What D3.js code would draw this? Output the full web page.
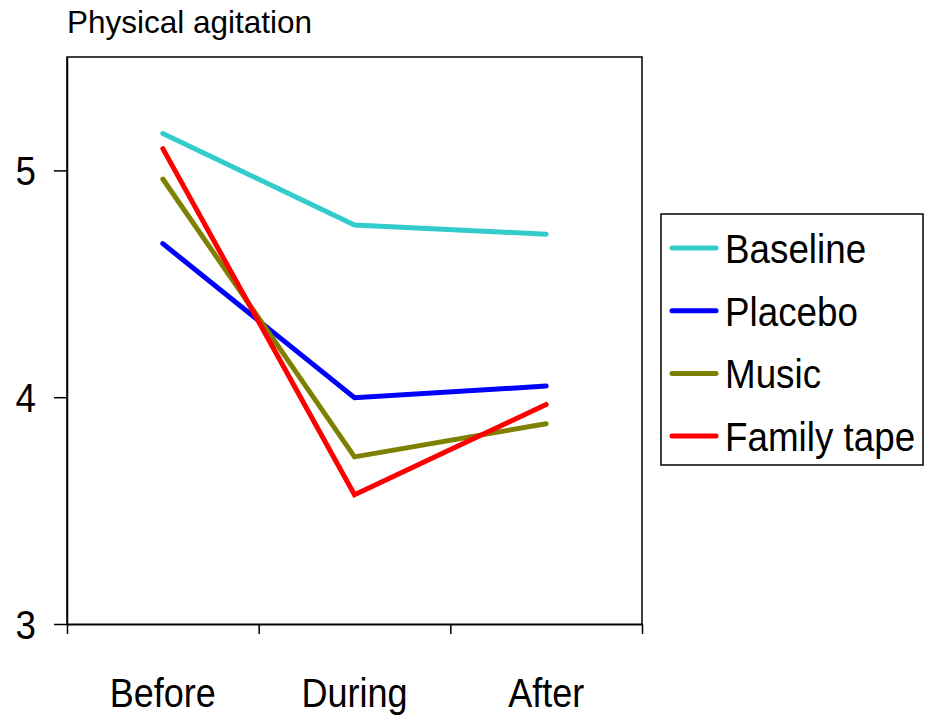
<!DOCTYPE html>
<html>
<head>
<meta charset="utf-8">
<script src="https://cdn.jsdelivr.net/npm/d3@7"></script>
<style>
  body { margin: 0; background: #fff; }
  text { font-family: "Liberation Sans", Arial, sans-serif; fill: #000; }
</style>
</head>
<body>
<svg id="chart" width="926" height="716"></svg>
<script>
// Data
var phases = ["Before", "During", "After"];
var seriesNames = ["Baseline", "Placebo", "Music", "Family tape"];
var baseline = [5.163, 4.759, 4.719];
var placebo = [4.677, 3.998, 4.049];
var music = [4.962, 3.737, 3.883];
var familyTape = [5.096, 3.570, 3.968];
var yTicks = [3, 4, 5];
var colors = ["#33cccc", "#0000ff", "#808000", "#ff0000"];

var allSeries = [baseline, placebo, music, familyTape];

var svg = d3.select("#chart");

// plot frame
var margin = {top: 57, right: 284, bottom: 92, left: 67};
var width = 926 - margin.left - margin.right;
var height = 716 - margin.top - margin.bottom;

var g = svg.append("g")
  .attr("transform", "translate(" + margin.left + "," + margin.top + ")");

var x = d3.scalePoint().domain(phases).range([0, width]).padding(0.5);
var xEdges = d3.scaleLinear().domain([0, phases.length]).range([0, width]);
var y = d3.scaleLinear().domain([3, 5.5]).range([height, 0]);

// title
svg.append("text")
  .attr("x", 67)
  .attr("y", 33)
  .style("font-size", "31.5px")
  .text("Physical agitation");

// box top and right
g.append("path")
  .attr("d", "M0," + height + "V0H" + width + "V" + height)
  .attr("fill", "none")
  .attr("stroke", "#000")
  .attr("stroke-width", 1.5);

// bottom axis: tick marks on the band edges
var xAxis = g.append("g")
  .attr("transform", "translate(0," + height + ")")
  .call(d3.axisBottom(xEdges).ticks(phases.length).tickSize(10).tickSizeOuter(0).tickFormat(""));
xAxis.select(".domain").attr("stroke-width", 2);
xAxis.selectAll(".tick line").attr("stroke-width", 1.5);

// category labels
g.append("g")
  .selectAll("text")
  .data(phases)
  .enter().append("text")
  .attr("transform", function(d) { return "translate(" + x(d) + "," + (height + 83) + ") scale(0.9,1)"; })
  .attr("text-anchor", "middle")
  .style("font-size", "40px")
  .text(function(d) { return d; });

// left axis
var yAxis = g.append("g")
  .call(d3.axisLeft(y).tickValues(yTicks).tickSize(13).tickSizeOuter(0).tickFormat(""));
yAxis.select(".domain").attr("stroke-width", 1.5);
yAxis.selectAll(".tick line").attr("stroke-width", 1.5);

g.append("g")
  .selectAll("text")
  .data(yTicks)
  .enter().append("text")
  .attr("transform", function(d) { return "translate(-31," + (y(d) + 15) + ") scale(0.92,1)"; })
  .attr("text-anchor", "end")
  .style("font-size", "40px")
  .text(function(d) { return d; });

// lines
var line = d3.line()
  .x(function(d, i) { return x(phases[i]); })
  .y(function(d) { return y(d); });

g.selectAll(".series")
  .data(allSeries)
  .enter().append("path")
  .attr("class", "series")
  .attr("d", line)
  .attr("fill", "none")
  .attr("stroke", function(d, i) { return colors[i]; })
  .attr("stroke-width", 5)
  .attr("stroke-linecap", "round")
  .attr("stroke-linejoin", "miter");

// legend
var legend = svg.append("g").attr("transform", "translate(661,214)");

legend.append("rect")
  .attr("width", 262)
  .attr("height", 251)
  .attr("fill", "#fff")
  .attr("stroke", "#000")
  .attr("stroke-width", 1.5);

var rows = legend.selectAll(".row")
  .data(seriesNames)
  .enter().append("g")
  .attr("class", "row")
  .attr("transform", function(d, i) { return "translate(0," + (34 + i * 62.7) + ")"; });

rows.append("line")
  .attr("x1", 11).attr("x2", 55)
  .attr("stroke", function(d, i) { return colors[i]; })
  .attr("stroke-width", 5)
  .attr("stroke-linecap", "round");

rows.append("text")
  .attr("transform", "translate(64,15) scale(0.92,1)")
  .style("font-size", "40px")
  .text(function(d) { return d; });
</script>
</body>
</html>
